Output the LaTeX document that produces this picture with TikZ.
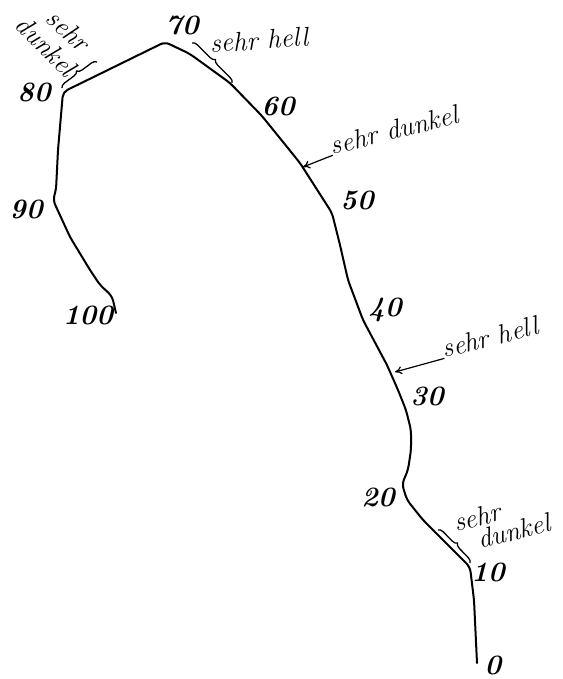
\documentclass[tikz,border=0pt]{standalone}
\usepackage{fontspec}
\usetikzlibrary{decorations.pathreplacing,arrows.meta}
\begin{document}
\begin{tikzpicture}[x=1pt,y=-1pt,
  num/.style={font=\fontsize{28}{28}\selectfont\bfseries\itshape, inner sep=0pt},
  note/.style={font=\fontsize{27}{27}\selectfont\itshape, inner sep=0pt},
  curve/.style={line width=2pt, line join=round, line cap=round, rounded corners=5pt},
  bracestyle/.style={line width=1.3pt, decorate, decoration={brace, amplitude=5pt}},
  pointer/.style={line width=1.2pt, -{To[length=7pt,width=8pt]}}]
\useasboundingbox (0,0) rectangle (562,679);
% decade points on the curve
\coordinate (p0) at (477,663);
\coordinate (p10) at (470,567);
\coordinate (p20) at (402,484);
\coordinate (p30) at (398,390);
\coordinate (p40) at (363,320);
\coordinate (p50) at (332,213);
\coordinate (p60) at (262,116);
\coordinate (p70) at (165,42);
\coordinate (p80) at (63,92);
\coordinate (p90) at (53,200);
\coordinate (p100) at (116,313);
% the curve
\draw[curve] (p0) -- (474,600) -- (p10) -- (450,547) -- (423,520) -- (407,500) -- (p20)
  -- (408,470) -- (411,450) -- (411,430) -- (406,410) -- (p30) -- (387,365) -- (p40)
  -- (348,280) -- (340,245) -- (p50) -- (300,163) -- (p60) -- (230,83) -- (190,54)
  -- (p70) -- (p80) -- (58,150) -- (56,190) -- (p90) -- (70,237) -- (90,270)
  -- (100,285) -- (112,296) -- (p100);
% numbers
\node[num] (l0) at (493,665) {0};
\node[num] (l10) at (488,572) {10};
\node[num] (l20) at (378,497) {20};
\node[num] (l30) at (427,396) {30};
\node[num] (l40) at (385,310) {40};
\node[num] (l50) at (357,200) {50};
\node[num] (l60) at (278,106) {60};
\node[num] (l70) at (182,25) {70};
\node[num] (l80) at (34,92) {80};
\node[num] (l90) at (26,209) {90};
\node[num] (l100) at (88,315) {100};
% braces
\draw[bracestyle] (62,88) -- (97,62);
\draw[bracestyle] (192,43) -- (232,83);
\draw[bracestyle] (438,530) -- (470,563);
% annotations
\node[note, rotate=-42] (t80a) at (68,30) {sehr};
\node[note, rotate=-45] (t80b) at (46,46) {dunkel};
\node[note, rotate=4] (t70) at (259,40) {sehr hell};
\node[note, rotate=14] (t60) at (394,130) {sehr dunkel};
\node[note, rotate=14] (t35) at (490,337) {sehr hell};
\node[note, rotate=14] (t15a) at (477,517) {sehr};
\node[note, rotate=14] (t15b) at (514,531) {dunkel};
% pointers
\coordinate (a60) at (303,167);
\coordinate (a35) at (395,372);
\draw[pointer] (t60.south west) -- (a60);
\draw[pointer] (t35.south west) -- (a35);
\end{tikzpicture}
\end{document}
